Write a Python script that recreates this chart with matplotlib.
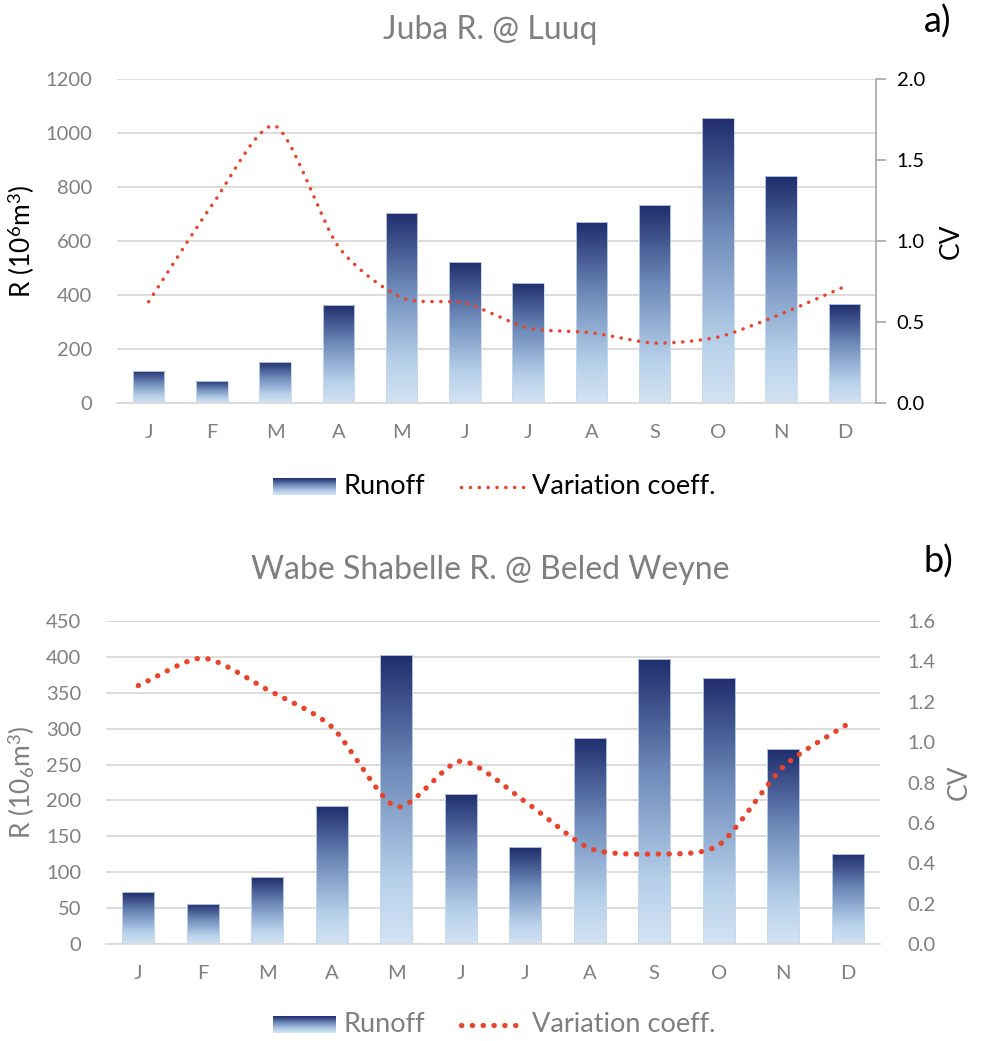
import numpy as np
import matplotlib
matplotlib.use("Agg")
import matplotlib.pyplot as plt
from matplotlib.colors import LinearSegmentedColormap
from matplotlib.lines import Line2D

plt.rcParams["font.family"] = ["Lato", "DejaVu Sans"]
plt.rcParams["mathtext.fontset"] = "custom"
plt.rcParams["mathtext.rm"] = "Lato"
plt.rcParams["mathtext.it"] = "Lato:italic"

MONTHS = ["J", "F", "M", "A", "M", "J", "J", "A", "S", "O", "N", "D"]

# a) Juba R. @ Luuq
JUBA_RUNOFF = [120, 83, 152, 363, 705, 523, 446, 670, 733, 1054, 840, 366]
JUBA_CV = [0.625, 1.22, 1.71, 0.965, 0.65, 0.617, 0.463, 0.434, 0.37, 0.407, 0.549, 0.718]

# b) Wabe Shabelle R. @ Beled Weyne
SHAB_RUNOFF = [72, 56, 93, 192, 403, 209, 135, 287, 397, 371, 271, 126]
SHAB_CV = [1.28, 1.416, 1.26, 1.076, 0.68, 0.906, 0.705, 0.474, 0.446, 0.49, 0.878, 1.09]

GREY = "#7F7F7F"
GRID = "#D9D9D9"
RED = "#E8432B"
W, H = 981, 1041

CMAP = LinearSegmentedColormap.from_list(
    "runoff", [(0.0, "#D3E3F3"), (0.22, "#B6D0EA"), (0.6, "#6E8BBA"), (1.0, "#1F2D6C")])
GRAD = np.linspace(0, 1, 256).reshape(-1, 1)


def smooth(x, y, n=24, k=0.75):
    # cardinal spline through the points, a bit tighter than Catmull-Rom
    p = np.column_stack([x, y]).astype(float)
    p = np.vstack([2 * p[0] - p[1], p, 2 * p[-1] - p[-2]])
    t = np.linspace(0, 1, n, endpoint=False)[:, None]
    h00 = 2 * t ** 3 - 3 * t ** 2 + 1
    h10 = t ** 3 - 2 * t ** 2 + t
    h01 = -2 * t ** 3 + 3 * t ** 2
    h11 = t ** 3 - t ** 2
    out = []
    for i in range(1, len(p) - 2):
        m1 = 0.5 * k * (p[i + 1] - p[i - 1])
        m2 = 0.5 * k * (p[i + 2] - p[i])
        out.append(h00 * p[i] + h10 * m1 + h01 * p[i + 1] + h11 * m2)
    out.append(p[-2][None, :])
    out = np.vstack(out)
    return out[:, 0], out[:, 1]


def px_rect(l, t, r, b):
    return [l / W, 1 - b / H, (r - l) / W, (b - t) / H]


def panel(rect, runoff, cv, ylim, yticks, cvlim, cvticks, ylabel, title, tag,
          title_y, dark, dot_lw, dot_gap):
    fig = plt.gcf()
    ax = fig.add_axes(rect)
    x = np.arange(len(MONTHS))
    bars = ax.bar(x, runoff, width=0.5, color="none", edgecolor="#C8D8EC",
                  linewidth=0.6, zorder=2)
    for b in bars:
        x0, w, h = b.get_x(), b.get_width(), b.get_height()
        im = ax.imshow(GRAD, cmap=CMAP, origin="lower", aspect="auto",
                       extent=[x0, x0 + w, 0, h], zorder=1.5)
        im.set_clip_path(b)
    ax.set_xlim(-0.5, len(MONTHS) - 0.5)
    ax.set_ylim(*ylim)
    ax.set_yticks(yticks)
    ax.set_xticks(x)
    ax.set_xticklabels(MONTHS)
    ax.grid(axis="y", color=GRID, lw=1.3)
    ax.set_axisbelow(True)
    for s in ["top", "right", "left"]:
        ax.spines[s].set_visible(False)
    ax.spines["bottom"].set_color(GRID)
    ax.spines["bottom"].set_linewidth(1.3)
    ax.tick_params(axis="both", length=0, labelsize=14.5, labelcolor=GREY)
    ax.tick_params(axis="x", pad=15)
    ax.tick_params(axis="y", pad=18)
    ax.set_ylabel(ylabel, fontsize=19, color="black" if dark else GREY, labelpad=6)

    ax2 = ax.twinx()
    sx, sy = smooth(x, cv)
    ax2.plot(sx, sy, color=RED, lw=dot_lw, linestyle=(0, (0.05, dot_gap)),
             dash_capstyle="round", zorder=3)
    ax2.set_ylim(*cvlim)
    ax2.set_yticks(cvticks)
    ax2.set_yticklabels([f"{v:.1f}" for v in cvticks])
    for s in ["top", "left", "bottom"]:
        ax2.spines[s].set_visible(False)
    if dark:
        ax2.spines["right"].set_color("#A6A6A6")
        ax2.spines["right"].set_linewidth(1.2)
        ax2.tick_params(axis="y", length=7, width=1.2, color="#A6A6A6",
                        labelsize=14.5, labelcolor="black", pad=8)
        ax2.set_ylabel("CV", fontsize=19, color="black", labelpad=10)
    else:
        ax2.spines["right"].set_visible(False)
        ax2.tick_params(axis="y", length=0, labelsize=14.5, labelcolor=GREY, pad=20)
        ax2.set_ylabel("CV", fontsize=19, color=GREY, labelpad=8)

    fig.text(490 / W, 1 - title_y / H, title, ha="center", va="center",
             fontsize=23, color=GREY)
    fig.text(938 / W, 1 - (title_y - 8) / H, tag, ha="center", va="center",
             fontsize=26, color="black")
    return ax


def legend(yc, dark, dot_lw, dot_gap):
    fig = plt.gcf()
    hax = fig.add_axes(px_rect(273, yc - 9, 336, yc + 8))
    hax.imshow(GRAD[::-1][:200], cmap=CMAP, aspect="auto")
    hax.axis("off")
    tc = "black" if dark else GREY
    fig.text(344 / W, 1 - yc / H, "Runoff", ha="left", va="center",
             fontsize=19.5, color=tc)
    fig.add_artist(Line2D([461 / W, 524 / W], [1 - yc / H, 1 - yc / H],
                          transform=fig.transFigure, color=RED, lw=dot_lw,
                          linestyle=(0, (0.05, dot_gap)), dash_capstyle="round"))
    fig.text(532 / W, 1 - yc / H, "Variation coeff.", ha="left", va="center",
             fontsize=19.5, color=tc)


fig = plt.figure(figsize=(W / 100, H / 100), dpi=100)

panel(px_rect(117, 79, 876, 403), JUBA_RUNOFF, JUBA_CV, (0, 1200),
      np.arange(0, 1201, 200), (0, 2.0), np.arange(0, 2.01, 0.5),
      "R (10$^{6}$m$^{3}$)", "Juba R. @ Luuq", "a)", 30, True, 2.5, 2.5)
legend(487, True, 2.5, 2.5)

panel(px_rect(106, 621, 880, 944), SHAB_RUNOFF, SHAB_CV, (0, 450),
      np.arange(0, 451, 50), (0, 1.6), np.arange(0, 1.61, 0.2),
      "R (10$_{6}$m$^{3}$)", "Wabe Shabelle R. @ Beled Weyne", "b)", 570, False, 3.8, 2.0)
legend(1025, False, 3.8, 2.0)

fig.savefig("out.png", dpi=100)
